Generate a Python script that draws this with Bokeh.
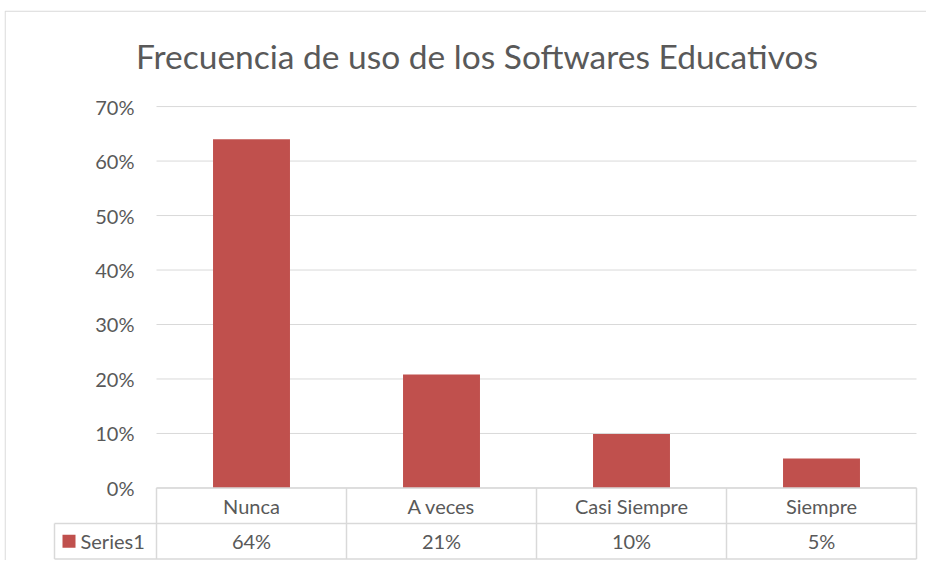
from bokeh.plotting import figure
from bokeh.models import Range1d, FixedTicker, NumeralTickFormatter, ColumnDataSource
from bokeh.embed import file_html
from bokeh.resources import INLINE
from bokeh.core.properties import value

title_text = "Frecuencia de uso de los Softwares Educativos"
categories = ["Nunca", "A veces", "Casi Siempre", "Siempre"]
series_name = "Series1"
values = [0.64, 0.208, 0.099, 0.054]
y_ticks = [0.0, 0.1, 0.2, 0.3, 0.4, 0.5, 0.6, 0.7]

BAR = "#C0504D"
TXT = "#595959"
GRID = "#D9D9D9"
FONT = "Lato"
FS = "20px"

n = len(categories)
xs = [i + 0.5 for i in range(n)]

PXY = 544.3                # pixels per y unit
PXX = 190.0                # pixels per category
left = -102 / PXX          # left edge of the series-name column
row_h = 35.5 / PXY         # height of one table row in y units
r1 = -row_h
r2 = -2 * row_h

x_start, x_end = -152 / PXX, 770 / PXX
y_start, y_end = -72.5 / PXY, 477 / PXY

p = figure(width=926, height=560, output_backend="svg", toolbar_location=None,
           x_range=Range1d(x_start, x_end), y_range=Range1d(y_start, y_end),
           min_border_left=4, min_border_right=0, min_border_top=10, min_border_bottom=0)
p.outline_line_color = None
p.xaxis.visible = False
p.grid.grid_line_color = None

# chart-area border (left and top edges visible)
bx = x_start + 0.6 / PXX
by = y_end - 0.6 / PXY
p.segment(x0=[bx, bx], y0=[y_start, by], x1=[bx, x_end], y1=[by, by],
          line_color=GRID, line_width=1.2)

# title
p.text(x=[(n / 2) - 59.5 / PXX], y=[max(y_ticks) + 51 / PXY], text=[title_text],
       text_align="center", text_baseline="middle", text_font=value(FONT),
       text_font_size="33.5px", text_color=TXT)

p.yaxis.ticker = FixedTicker(ticks=y_ticks)
p.yaxis.formatter = NumeralTickFormatter(format="0%")
p.yaxis.axis_line_color = None
p.yaxis.major_tick_line_color = None
p.yaxis.minor_tick_line_color = None
p.yaxis.major_label_standoff = -136
p.yaxis.major_label_text_font = FONT
p.yaxis.major_label_text_font_size = FS
p.yaxis.major_label_text_color = TXT

# horizontal gridlines across the category area
p.segment(x0=[0] * len(y_ticks), x1=[n] * len(y_ticks), y0=y_ticks, y1=y_ticks,
          line_color=GRID, line_width=1)

src = ColumnDataSource(dict(x=xs, top=values))
p.vbar(x="x", top="top", width=0.405, bottom=0, source=src,
       fill_color=BAR, line_color=None)

# data table lines
x0 = [0, left, left] + list(range(n + 1)) + [left]
x1 = [n, n, n] + list(range(n + 1)) + [left]
y0 = [0, r1, r2] + [r2] * (n + 1) + [r2]
y1 = [0, r1, r2] + [0] * (n + 1) + [r1]
p.segment(x0=x0, y0=y0, x1=x1, y1=y1, line_color=GRID, line_width=1.5)

p.text(x=xs, y=[r1 / 2] * n, text=categories, text_align="center", text_baseline="middle",
       text_font=value(FONT), text_font_size=FS, text_color=TXT)
p.text(x=xs, y=[(r1 + r2) / 2] * n, text=[f"{round(v * 100)}%" for v in values],
       text_align="center", text_baseline="middle",
       text_font=value(FONT), text_font_size=FS, text_color=TXT)
p.scatter(x=[left + 14.5 / PXX], y=[(r1 + r2) / 2], marker="square", size=13,
          fill_color=BAR, line_color=None)
p.text(x=[left + 26 / PXX], y=[(r1 + r2) / 2], text=[series_name], text_align="left",
       text_baseline="middle", text_font=value(FONT), text_font_size=FS, text_color=TXT)

open("out.html", "w").write(file_html(p, INLINE))
